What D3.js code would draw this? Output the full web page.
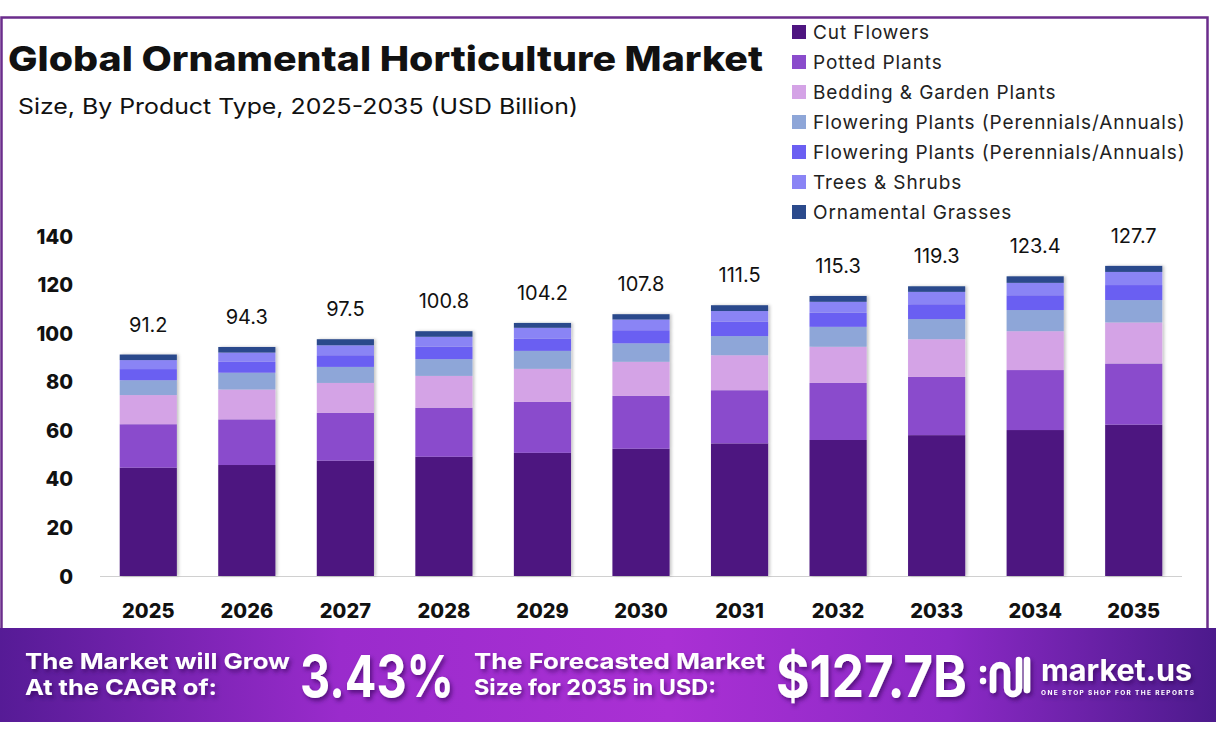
<!DOCTYPE html>
<html>
<head>
<meta charset="utf-8">
<script src="https://cdn.jsdelivr.net/npm/d3@7/dist/d3.min.js"></script>
<style>
body { margin: 0; background: #fff; }
text { font-family: "Inter", "Noto Sans", sans-serif; }
</style>
</head>
<body>
<svg id="chart" width="1216" height="740"></svg>
<script>
// chart data
var years = ["2025", "2026", "2027", "2028", "2029", "2030", "2031", "2032", "2033", "2034", "2035"];
var cutFlowers     = [44.6, 45.7, 47.5, 49.1, 50.7, 52.4, 54.6, 56.0, 58.0, 60.1, 62.3];
var pottedPlants   = [17.9, 18.8, 19.7, 20.2, 21.0, 21.8, 21.9, 23.5, 24.0, 24.7, 25.2];
var beddingPlants  = [12.0, 12.3, 12.3, 13.1, 13.6, 14.0, 14.4, 14.9, 15.5, 16.0, 16.9];
var floweringA     = [6.1, 6.9, 6.6, 6.9, 7.4, 7.6, 7.9, 8.2, 8.3, 8.7, 9.2];
var floweringB     = [4.6, 4.5, 4.8, 5.1, 5.1, 5.4, 5.9, 5.8, 6.1, 6.1, 6.2];
var treesShrubs    = [3.7, 3.8, 4.1, 4.1, 4.4, 4.4, 4.4, 4.5, 5.1, 5.1, 5.4];
var grasses        = [2.3, 2.3, 2.5, 2.3, 2.0, 2.2, 2.4, 2.4, 2.3, 2.7, 2.5];
var totals         = [91.2, 94.3, 97.5, 100.8, 104.2, 107.8, 111.5, 115.3, 119.3, 123.4, 127.7];

var seriesNames = ["Cut Flowers", "Potted Plants", "Bedding & Garden Plants",
  "Flowering Plants (Perennials/Annuals)", "Flowering Plants (Perennials/Annuals)",
  "Trees & Shrubs", "Ornamental Grasses"];
var seriesColors = ["#4e1580", "#8a4ccc", "#d4a3e6", "#8ea6d8", "#6b5ff2", "#8a84f5", "#2b4a8c"];
var yTicks = [0, 20, 40, 60, 80, 100, 120, 140];

var svg = d3.select("#chart");
var defs = svg.append("defs");

// footer gradient
var grad = defs.append("linearGradient").attr("id", "footGrad");
grad.append("stop").attr("offset", "0%").attr("stop-color", "#561b96");
grad.append("stop").attr("offset", "28%").attr("stop-color", "#9a2bcc");
grad.append("stop").attr("offset", "55%").attr("stop-color", "#aa30d4");
grad.append("stop").attr("offset", "78%").attr("stop-color", "#8c29c6");
grad.append("stop").attr("offset", "100%").attr("stop-color", "#4c1a8c");

var shadow = defs.append("filter").attr("id", "barShadow")
  .attr("x", "-20%").attr("y", "-5%").attr("width", "140%").attr("height", "110%");
shadow.append("feDropShadow").attr("dx", 2).attr("dy", 0).attr("stdDeviation", 1.5)
  .attr("flood-color", "#000").attr("flood-opacity", 0.22);

var txtShadow = defs.append("filter").attr("id", "txtShadow")
  .attr("x", "-10%").attr("y", "-20%").attr("width", "120%").attr("height", "150%");
txtShadow.append("feDropShadow").attr("dx", 2).attr("dy", 3).attr("stdDeviation", 2)
  .attr("flood-color", "#2a0650").attr("flood-opacity", 0.6);

// frame
svg.append("rect").attr("x", 1.5).attr("y", 17.5).attr("width", 1206).attr("height", 660)
  .attr("fill", "#fff").attr("stroke", "#6b2d8c").attr("stroke-width", 2.5);

// title
svg.append("text").attr("x", 8).attr("y", 71)
  .attr("font-size", 34).attr("font-weight", 800).attr("fill", "#111")
  .attr("textLength", 755).attr("lengthAdjust", "spacingAndGlyphs")
  .text("Global Ornamental Horticulture Market");
svg.append("text").attr("x", 18).attr("y", 114)
  .attr("font-size", 22).attr("fill", "#111")
  .attr("textLength", 560).attr("lengthAdjust", "spacingAndGlyphs")
  .text("Size, By Product Type, 2025-2035 (USD Billion)");

// scales
var x = d3.scaleBand().domain(years).range([100, 1182]).paddingInner(0.42).paddingOuter(0.2);
var y = d3.scaleLinear().domain([0, 140]).range([576, 236]);

var rows = years.map(function (yr, i) {
  return { year: yr, s0: cutFlowers[i], s1: pottedPlants[i], s2: beddingPlants[i],
    s3: floweringA[i], s4: floweringB[i], s5: treesShrubs[i], s6: grasses[i] };
});
var keys = ["s0", "s1", "s2", "s3", "s4", "s5", "s6"];
var stacked = d3.stack().keys(keys)(rows);

// baseline
svg.append("line").attr("x1", 100).attr("x2", 1182).attr("y1", y(0) + 0.5).attr("y2", y(0) + 0.5)
  .attr("stroke", "#d0d0d0").attr("stroke-width", 1);

// bars
var barG = svg.append("g").attr("filter", "url(#barShadow)");
barG.selectAll("g.layer").data(stacked).enter().append("g")
  .attr("class", "layer")
  .attr("fill", function (d, i) { return seriesColors[i]; })
  .selectAll("rect").data(function (d) { return d; }).enter().append("rect")
  .attr("x", function (d) { return x(d.data.year); })
  .attr("width", x.bandwidth())
  .attr("y", function (d) { return y(d[1]); })
  .attr("height", function (d) { return y(d[0]) - y(d[1]); });

// total labels
svg.selectAll("text.total").data(years).enter().append("text")
  .attr("class", "total")
  .attr("x", function (d) { return x(d) + x.bandwidth() / 2; })
  .attr("y", function (d, i) { return y(totals[i]) - 23; })
  .attr("text-anchor", "middle").attr("font-size", 20).attr("fill", "#111")
  .text(function (d, i) { return totals[i].toFixed(1); });

// y axis
var yAxis = d3.axisLeft(y).tickValues(yTicks).tickSize(0).tickPadding(0);
var yg = svg.append("g").attr("transform", "translate(73,0)").call(yAxis);
yg.select(".domain").remove();
yg.selectAll("text").attr("font-size", 20).attr("font-weight", 800).attr("fill", "#111")
  .attr("font-family", "Inter, 'Noto Sans', sans-serif").attr("dy", "0.35em");

// x axis
var xAxis = d3.axisBottom(x).tickSize(0).tickPadding(0);
var xg = svg.append("g").attr("transform", "translate(0,618)").call(xAxis);
xg.select(".domain").remove();
xg.selectAll("text").attr("font-size", 20).attr("font-weight", 800).attr("fill", "#111")
  .attr("font-family", "Inter, 'Noto Sans', sans-serif").attr("dy", 0);

// legend
var leg = svg.append("g").selectAll("g").data(seriesNames).enter().append("g")
  .attr("transform", function (d, i) { return "translate(792," + (32 + i * 30) + ")"; });
leg.append("rect").attr("x", 0).attr("y", -7).attr("width", 14).attr("height", 14)
  .attr("fill", function (d, i) { return seriesColors[i]; });
leg.append("text").attr("x", 21).attr("y", 0).attr("dy", "0.35em")
  .attr("font-size", 19).attr("letter-spacing", 0.9).attr("fill", "#222")
  .text(function (d) { return d; });

// footer band
svg.append("rect").attr("x", 0).attr("y", 628).attr("width", 1216).attr("height", 94)
  .attr("fill", "url(#footGrad)");

var foot = svg.append("g").attr("fill", "#fff").attr("filter", "url(#txtShadow)");
function footText(tx, ty, size, len, str) {
  foot.append("text").attr("x", tx).attr("y", ty).attr("font-size", size)
    .attr("font-family", "'Liberation Sans Narrow', 'Roboto', sans-serif")
    .attr("font-weight", 700)
    .attr("textLength", len).attr("lengthAdjust", "spacingAndGlyphs").text(str);
}
footText(25, 669, 22, 265, "The Market will Grow");
footText(25, 695, 22, 192, "At the CAGR of:");
footText(300, 697, 58, 154, "3.43%");
footText(474, 669, 22, 291, "The Forecasted Market");
footText(474, 695, 22, 242, "Size for 2035 in USD:");
footText(776, 697, 58, 191, "$127.7B");

// logo
var logo = svg.append("g").attr("filter", "url(#txtShadow)");
logo.append("circle").attr("cx", 983).attr("cy", 669).attr("r", 3.2).attr("fill", "#fff");
logo.append("circle").attr("cx", 983).attr("cy", 681).attr("r", 3.2).attr("fill", "#fff");
logo.append("path")
  .attr("d", "M993,690 L993,672 A7,7 0 0 1 1007,672 L1007,688 A6,6 0 0 0 1019,688 L1019,660")
  .attr("fill", "none").attr("stroke", "#fff").attr("stroke-width", 6.5).attr("stroke-linecap", "round");
logo.append("line").attr("x1", 1027).attr("x2", 1027).attr("y1", 660).attr("y2", 690)
  .attr("stroke", "#fff").attr("stroke-width", 6.5).attr("stroke-linecap", "round");
logo.append("text").attr("x", 1041).attr("y", 681).attr("font-size", 30).attr("font-weight", 700)
  .attr("fill", "#fff").attr("textLength", 151).attr("lengthAdjust", "spacingAndGlyphs")
  .text("market.us");
logo.append("text").attr("x", 1041).attr("y", 695).attr("font-size", 6.5).attr("font-weight", 700)
  .attr("fill", "#fff").attr("textLength", 153).attr("lengthAdjust", "spacing")
  .text("ONE STOP SHOP FOR THE REPORTS");
</script>
</body>
</html>
